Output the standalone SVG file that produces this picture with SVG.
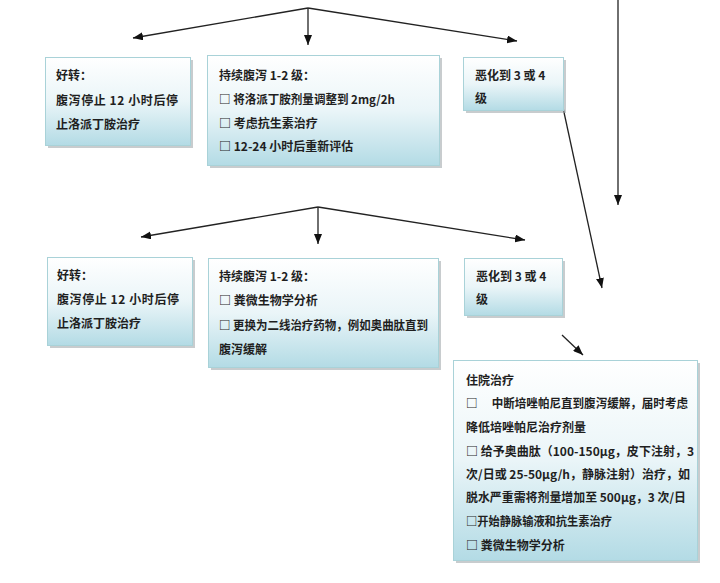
<svg xmlns="http://www.w3.org/2000/svg" width="720" height="583" viewBox="0 0 720 583">
<style>
.box{fill:url(#g);stroke:#a9d2d8;stroke-width:1}
.sh{fill:#9aa3a6;opacity:0.55}
.t{font-family:"Noto Sans CJK SC","Liberation Sans",sans-serif;font-size:12px;font-weight:bold;fill:#1f1f1f}
.c{stroke:#222;stroke-width:1.3;fill:none;marker-end:url(#a)}
</style>
<defs>
<linearGradient id="g" x1="0" y1="0" x2="0" y2="1">
<stop offset="0" stop-color="#ffffff"/>
<stop offset="0.5" stop-color="#eaf5f8"/>
<stop offset="1" stop-color="#b3dbe5"/>
</linearGradient>
<marker id="a" viewBox="0 0 10 8" refX="10" refY="4" markerWidth="10" markerHeight="8" markerUnits="userSpaceOnUse" orient="auto">
<path d="M0,0 L10,4 L0,8 Z" fill="#111"/>
</marker>
</defs>
<rect width="720" height="583" fill="#fff"/>
<g id="connectors">
<path class="c" d="M308,8 L133,38"/>
<path class="c" d="M308,8 L308,45"/>
<path class="c" d="M308,8 L517,41"/>
<path class="c" d="M318,207 L141,237"/>
<path class="c" d="M318,207 L318,244"/>
<path class="c" d="M318,207 L525,240"/>
<path class="c" d="M618,0 L618,205"/>
<path class="c" d="M562,103 L602,288"/>
<path class="c" d="M562,335 L583,355"/>
</g>
<g id="n1">
<rect class="sh" x="48" y="60" width="145" height="88"/>
<rect class="box" x="45.5" y="57.5" width="145" height="88"/>
<text class="t" x="56" y="80">好转：</text>
<text class="t" x="56" y="105" textLength="122" lengthAdjust="spacing">腹泻停止  12  小时后停</text>
<text class="t" x="56" y="129">止洛派丁胺治疗</text>
</g>
<g id="n2">
<rect class="sh" x="210" y="58" width="232" height="110"/>
<rect class="box" x="207.5" y="55.5" width="232" height="110"/>
<text class="t" x="219" y="80">持续腹泻 1-2 级：</text>
<text class="t" x="219" y="104" textLength="176" lengthAdjust="spacingAndGlyphs">□ 将洛派丁胺剂量调整到 2mg/2h</text>
<text class="t" x="219" y="128">□ 考虑抗生素治疗</text>
<text class="t" x="219" y="151">□ 12-24 小时后重新评估</text>
</g>
<g id="n3">
<rect class="sh" x="466" y="60" width="100" height="53"/>
<rect class="box" x="463.5" y="57.5" width="100" height="53"/>
<text class="t" x="475" y="80">恶化到 3 或 4</text>
<text class="t" x="475" y="103">级</text>
</g>
<g id="n4">
<rect class="sh" x="50" y="260" width="145" height="88"/>
<rect class="box" x="47.5" y="257.5" width="145" height="88"/>
<text class="t" x="57" y="280">好转：</text>
<text class="t" x="57" y="304" textLength="122" lengthAdjust="spacing">腹泻停止  12  小时后停</text>
<text class="t" x="57" y="328">止洛派丁胺治疗</text>
</g>
<g id="n5">
<rect class="sh" x="211" y="261" width="230" height="109"/>
<rect class="box" x="208.5" y="258.5" width="230" height="109"/>
<text class="t" x="219" y="281">持续腹泻 1-2 级：</text>
<text class="t" x="219" y="305">□ 粪微生物学分析</text>
<text class="t" x="219" y="330" textLength="209" lengthAdjust="spacingAndGlyphs">□ 更换为二线治疗药物，例如奥曲肽直到</text>
<text class="t" x="219" y="354">腹泻缓解</text>
</g>
<g id="n6">
<rect class="sh" x="467" y="261" width="98" height="57"/>
<rect class="box" x="464.5" y="258.5" width="98" height="57"/>
<text class="t" x="476" y="281">恶化到 3 或 4</text>
<text class="t" x="476" y="304">级</text>
</g>
<g id="n7">
<rect class="sh" x="456" y="363" width="244" height="200"/>
<rect class="box" x="453.5" y="360.5" width="244" height="200"/>
<text class="t" x="466" y="385">住院治疗</text>
<text class="t" x="466" y="408" textLength="222" lengthAdjust="spacingAndGlyphs">□　 中断培唑帕尼直到腹泻缓解，届时考虑</text>
<text class="t" x="466" y="432">降低培唑帕尼治疗剂量</text>
<text class="t" x="466" y="456" textLength="228" lengthAdjust="spacing">□ 给予奥曲肽（100-150μg，皮下注射，3</text>
<text class="t" x="466" y="479" textLength="224" lengthAdjust="spacing">次/日或 25-50μg/h，静脉注射）治疗，如</text>
<text class="t" x="466" y="502" textLength="220" lengthAdjust="spacingAndGlyphs">脱水严重需将剂量增加至 500μg，3 次/日</text>
<text class="t" x="466" y="526" textLength="146" lengthAdjust="spacingAndGlyphs">□开始静脉输液和抗生素治疗</text>
<text class="t" x="466" y="550">□ 粪微生物学分析</text>
</g>
</svg>
